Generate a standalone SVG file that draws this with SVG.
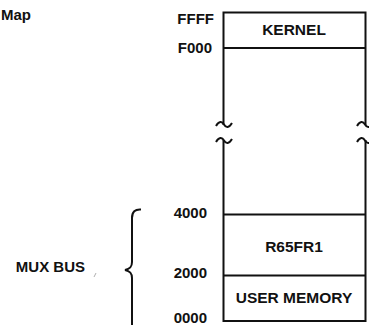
<svg xmlns="http://www.w3.org/2000/svg" width="369" height="325" viewBox="0 0 369 325">
<style>
.t{font-family:"Liberation Sans",Arial,sans-serif;font-weight:bold;font-size:15px;fill:#111}
.b{font-size:15.5px;text-anchor:middle}
.a{text-anchor:end}
.ln{stroke:#111;stroke-width:2;fill:none}
</style>
<rect width="369" height="325" fill="#fff"/>
<text class="t" x="1" y="20">Map</text>
<g id="connectors">
<path class="ln" d="M223.5,125 V12.5 H365.5 V125"/>
<path class="ln" d="M216,126 c3,-5 6,-5 8,-1.5 s5,3.5 8,-1.5"/>
<path class="ln" d="M357,126 c3,-5 6,-5 8,-1.5 s5,3.5 8,-1.5"/>
<path class="ln" d="M216,142 c3,-5 6,-5 8,-1.5 s5,3.5 8,-1.5"/>
<path class="ln" d="M357,142 c3,-5 6,-5 8,-1.5 s5,3.5 8,-1.5"/>
<path class="ln" d="M223.5,140 V321 H365.5 V140"/>
<path class="ln" d="M223.5,48 H365.5 M223.5,214.5 H365.5 M223.5,275.5 H365.5"/>
<path class="ln" d="M141,209.5 C135,209 132,212 132,218 V262 C132,267 130,269 125,270 C130,271 132,273 132,278 V325"/>
<path d="M94,277 L96,273" stroke="#999" stroke-width="0.8"/>
</g>
<g id="kernel"><text class="t b" x="294" y="35">KERNEL</text></g>
<g id="r65fr1"><text class="t b" x="294" y="252">R65FR1</text></g>
<g id="user-memory"><text class="t b" x="294" y="303">USER MEMORY</text></g>
<g id="addresses">
<text class="t a" x="214" y="24">FFFF</text>
<text class="t a" x="212" y="53">F000</text>
<text class="t a" x="207" y="218">4000</text>
<text class="t a" x="207" y="278">2000</text>
<text class="t a" x="207" y="323">0000</text>
</g>
<g id="mux-bus"><text class="t a" x="85" y="272">MUX BUS</text></g>
</svg>
